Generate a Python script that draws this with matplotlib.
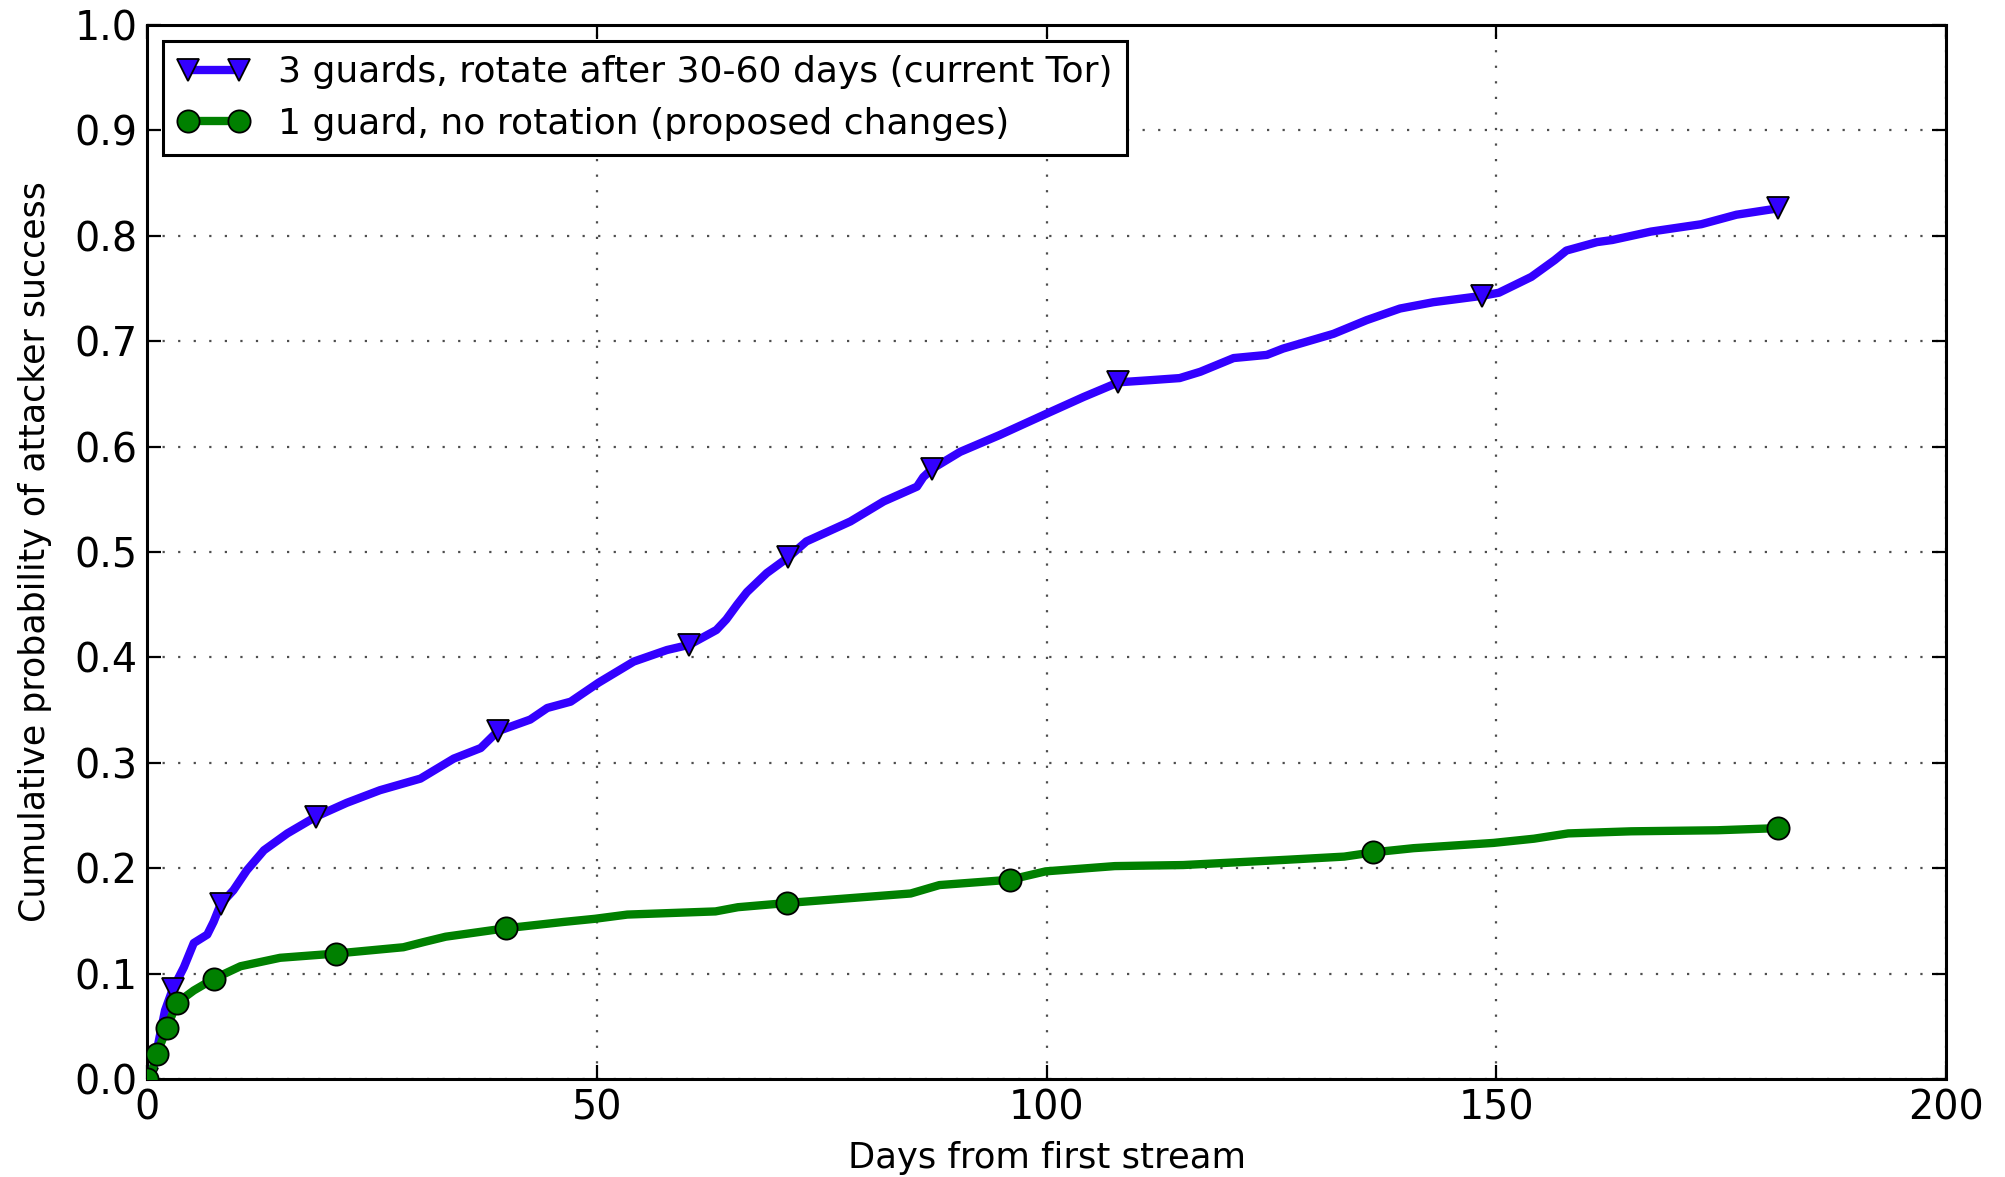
import matplotlib
matplotlib.use("Agg")
import matplotlib.pyplot as plt
from matplotlib.lines import Line2D

# ---- data ----
blue_x = [0, 0.74, 2.0, 2.85, 4.1, 5.2, 6.7, 7.4, 8.2, 9.6, 11.1, 13.0, 15.6, 18.8,
          22.2, 25.9, 30.4, 34.1, 37.1, 39.0, 42.6, 44.5, 47.1, 50.2, 54.1, 57.8,
          60.3, 63.3, 64.4, 65.6, 66.7, 68.9, 71.3, 73.3, 78.2, 81.9, 85.6, 86.3,
          87.3, 90.4, 94.8, 100.2, 104.1, 108.0, 111.5, 114.8, 117.1, 120.8, 124.5,
          126.3, 131.9, 135.6, 139.3, 143.0, 148.4, 150.3, 153.9, 156.5, 157.8,
          161.2, 162.9, 167.2, 172.8, 176.7, 181.3]
blue_y = [0, 0.012, 0.065, 0.085, 0.106, 0.129, 0.137, 0.149, 0.166, 0.179, 0.198,
          0.217, 0.233, 0.249, 0.262, 0.274, 0.285, 0.304, 0.314, 0.330, 0.341,
          0.352, 0.358, 0.376, 0.396, 0.407, 0.412, 0.426, 0.436, 0.450, 0.462,
          0.480, 0.495, 0.510, 0.529, 0.548, 0.562, 0.571, 0.579, 0.595, 0.611,
          0.632, 0.647, 0.661, 0.663, 0.665, 0.671, 0.684, 0.687, 0.693, 0.707,
          0.720, 0.731, 0.737, 0.743, 0.746, 0.761, 0.777, 0.786, 0.794, 0.796,
          0.804, 0.811, 0.820, 0.826]
blue_marker_x = [0, 2.85, 8.2, 18.8, 39.0, 60.3, 71.3, 87.3, 108.0, 148.4, 181.3]
blue_marker_y = [0, 0.085, 0.166, 0.249, 0.330, 0.412, 0.495, 0.579, 0.661, 0.743, 0.826]

green_x = [0, 0.37, 1.1, 2.2, 3.3, 5.2, 7.4, 10.4, 14.8, 21.0, 28.5, 30.8, 33.2,
           39.9, 46.3, 49.8, 53.4, 63.2, 65.7, 71.2, 84.9, 88.1, 95.9, 99.9, 107.6,
           115.2, 126.7, 133.1, 136.3, 140.8, 149.7, 154.2, 158.0, 165.0, 174.6, 181.3]
green_y = [0, 0.002, 0.024, 0.048, 0.072, 0.084, 0.095, 0.107, 0.115, 0.119, 0.125,
           0.130, 0.135, 0.143, 0.149, 0.152, 0.156, 0.159, 0.163, 0.167, 0.176,
           0.184, 0.189, 0.197, 0.202, 0.203, 0.208, 0.211, 0.215, 0.219, 0.224,
           0.228, 0.233, 0.235, 0.236, 0.238]
green_marker_x = [0, 1.1, 2.2, 3.3, 7.4, 21.0, 39.9, 71.2, 95.9, 136.3, 181.3]
green_marker_y = [0, 0.024, 0.048, 0.072, 0.095, 0.119, 0.143, 0.167, 0.189, 0.215, 0.238]

labels = ["3 guards, rotate after 30-60 days (current Tor)",
          "1 guard, no rotation (proposed changes)"]
x_ticks = [0, 50, 100, 150, 200]
y_ticks = [0.0, 0.1, 0.2, 0.3, 0.4, 0.5, 0.6, 0.7, 0.8, 0.9, 1.0]

BLUE = "#3300ff"
GREEN = "#008000"
LW = 6.0
MS = 16
MEW = 1.3

plt.rcParams["font.family"] = ["DejaVu Sans"]

W, H = 2006, 1177
fig = plt.figure(figsize=(W / 100, H / 100), dpi=100)
ax = fig.add_axes([147 / W, 1 - 1079 / H, (1946 - 147) / W, (1079 - 25) / H])

ax.plot(blue_x, blue_y, color=BLUE, lw=LW, solid_capstyle="round",
        solid_joinstyle="round", zorder=3)
ax.plot(blue_marker_x, blue_marker_y, linestyle="none", marker="v", ms=MS,
        mfc=BLUE, mec="black", mew=MEW, zorder=4)
ax.plot(green_x, green_y, color=GREEN, lw=LW, solid_capstyle="round",
        solid_joinstyle="round", zorder=5)
ax.plot(green_marker_x, green_marker_y, linestyle="none", marker="o", ms=MS,
        mfc=GREEN, mec="black", mew=MEW, zorder=6)

ax.set_xlim(0, 200)
ax.set_ylim(0, 1.0)
ax.set_xticks(x_ticks)
ax.set_xticklabels([str(v) for v in x_ticks])
ax.set_yticks(y_ticks)
ax.set_yticklabels([f"{v:.1f}" for v in y_ticks])

ax.grid(True, color="0.3", linestyle=(0, (1, 6)), lw=1.6)
ax.set_axisbelow(True)
for s in ax.spines.values():
    s.set_linewidth(2.2)
    s.set_color("black")

ax.tick_params(axis="both", which="major", direction="in", length=10, width=1.6,
               top=True, right=True, labelsize=28.5, pad=7)
ax.set_xlabel("Days from first stream", fontsize=25.5, labelpad=8.5)
ax.set_ylabel("Cumulative probability of attacker success", fontsize=25, labelpad=16)

handles = [
    Line2D([], [], color=BLUE, lw=LW, marker="v", ms=MS, mfc=BLUE, mec="black", mew=MEW),
    Line2D([], [], color=GREEN, lw=LW, marker="o", ms=MS, mfc=GREEN, mec="black", mew=MEW),
]
leg = ax.legend(handles, labels, loc="upper left", bbox_to_anchor=(0, 1),
                numpoints=2, fontsize=26, fancybox=False, borderaxespad=0.45,
                labelspacing=0.48, handlelength=2.0, handletextpad=0.8,
                borderpad=0.39, framealpha=1)
leg.get_frame().set_edgecolor("black")
leg.get_frame().set_linewidth(2.2)

fig.savefig("out.png", dpi=100)
